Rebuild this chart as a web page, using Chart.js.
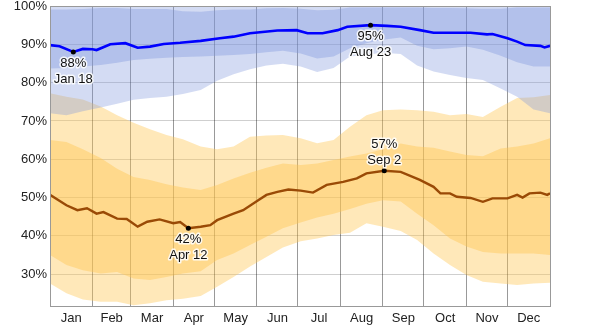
<!DOCTYPE html>
<html>
<head>
<meta charset="utf-8">
<title>Relative humidity</title>
<script src="https://cdn.jsdelivr.net/npm/chart.js@4.4.1/dist/chart.umd.min.js"></script>
<style>
  html, body { margin: 0; padding: 0; background: #fff; }
</style>
</head>
<body>
<canvas id="humidityChart" width="600" height="329"></canvas>
<script>
// Month axis (day of year, Jan 1 = 0)
const monthNames = ['Jan', 'Feb', 'Mar', 'Apr', 'May', 'Jun', 'Jul', 'Aug', 'Sep', 'Oct', 'Nov', 'Dec'];
const monthStarts = [0, 31, 59, 90, 120, 151, 181, 212, 243, 273, 304, 334, 365];
const yTicks = [30, 40, 50, 60, 70, 80, 90, 100];

// Percentile bands share one set of days
const bandDays = [0, 12, 24, 37, 49, 61, 73, 85, 97, 110, 122, 134, 146, 158, 170, 183, 195, 207, 219, 231, 243, 256, 268, 280, 292, 304, 316, 329, 341, 353, 365];

// daily high humidity: 10th / 25th / 75th / 90th percentile
const highP90 = [100, 100, 100, 100, 100, 100, 100, 100, 100, 100, 100, 100, 100, 100, 100, 100, 100, 100, 100, 100, 100, 100, 100, 100, 100, 100, 100, 100, 100, 100, 100];
const highP75 = [99.1, 99.1, 99.2, 99.5, 99.5, 99.2, 99.2, 99.2, 98.6, 98.5, 98.9, 99.1, 99.1, 99.4, 99.5, 99.3, 98.9, 99.0, 99.6, 99.6, 99.6, 99.6, 99.6, 99.5, 99.5, 99.4, 99.3, 99.3, 99.6, 99.6, 99.6];
const highP25 = [83.7, 83.8, 84.2, 84.6, 85.2, 85.9, 86.2, 86.5, 86.7, 86.8, 87.0, 87.2, 87.5, 87.9, 88.3, 87.6, 86.3, 86.8, 89.0, 90.3, 91.2, 91.8, 89.6, 88.7, 89.0, 89.4, 88.6, 87.0, 85.3, 84.2, 84.2];
const highP10 = [72.0, 71.5, 72.5, 73.5, 74.5, 75.5, 76.0, 76.3, 77.0, 78.1, 80.5, 82.2, 83.5, 84.5, 84.9, 84.2, 82.8, 83.8, 86.8, 87.3, 87.8, 87.5, 84.5, 82.9, 82.0, 81.2, 80.7, 78.5, 76.3, 73.0, 72.0];

// daily low humidity: 10th / 25th / 75th / 90th percentile
const lowP90 = [77.2, 76.3, 75.6, 73.8, 71.5, 69.5, 67.8, 66.3, 65.2, 63.3, 62.6, 63.3, 65.9, 66.2, 66.3, 65.5, 64.2, 65.0, 68.5, 71.5, 72.8, 73.0, 72.8, 72.4, 71.5, 71.8, 71.0, 73.7, 76.0, 76.2, 76.8];
const lowP75 = [65.0, 64.5, 62.6, 60.3, 57.5, 55.4, 54.6, 53.5, 52.6, 52.0, 53.3, 55.0, 56.5, 57.8, 58.9, 58.5, 58.9, 59.8, 60.7, 61.5, 62.6, 64.1, 63.3, 63.0, 62.0, 61.1, 60.8, 62.8, 63.3, 64.1, 65.5];
const lowP25 = [35.0, 32.4, 31.0, 30.2, 30.6, 28.9, 28.5, 29.3, 30.2, 30.8, 33.7, 35.4, 37.6, 39.8, 42.0, 43.5, 44.8, 45.8, 47.0, 48.4, 49.3, 49.0, 45.8, 42.8, 39.3, 37.2, 35.8, 35.4, 35.4, 35.4, 35.0];
const lowP10 = [27.6, 25.0, 23.4, 22.8, 22.8, 21.9, 22.4, 23.2, 23.6, 24.3, 26.7, 29.3, 32.0, 34.5, 37.0, 38.6, 39.3, 40.2, 40.8, 43.3, 42.4, 41.3, 38.9, 35.4, 32.4, 29.8, 28.0, 27.6, 27.2, 27.6, 27.8];

// median daily high humidity
const highDays = [0, 7, 17, 24, 31, 34, 44, 55, 64, 73, 83, 95, 110, 124, 134, 146, 166, 180, 188, 199, 210, 217, 234, 246, 256, 270, 280, 307, 319, 323, 334, 341, 347, 358, 361, 365];
const highMedian = [89.8, 89.5, 88, 88.8, 88.7, 88.5, 90.0, 90.3, 89.1, 89.4, 90.1, 90.4, 90.9, 91.6, 92.0, 92.9, 93.6, 93.7, 92.9, 92.9, 93.7, 94.6, 95, 94.8, 94.6, 93.7, 93.0, 93.0, 92.6, 92.7, 91.6, 90.7, 89.8, 89.6, 89.2, 89.6];

// median daily low humidity
const lowDays = [0, 12, 20, 27, 34, 39, 49, 56, 64, 71, 80, 90, 95, 101, 110, 117, 122, 134, 141, 152, 158, 166, 174, 183, 192, 202, 214, 224, 231, 244, 256, 270, 280, 285, 292, 297, 307, 316, 323, 334, 341, 345, 350, 358, 363, 365];
const lowMedian = [50.7, 48.0, 46.7, 47.2, 45.8, 46.2, 44.5, 44.4, 42.4, 43.7, 44.3, 43.3, 43.6, 42, 42.4, 42.8, 44.1, 45.8, 46.7, 49.3, 50.7, 51.5, 52.1, 51.8, 51.3, 53.3, 54.1, 55.0, 56.3, 57, 56.7, 54.6, 52.8, 51.1, 51.1, 50.2, 49.9, 48.9, 49.8, 49.8, 50.7, 50.0, 51.1, 51.3, 50.7, 51.1];

// extremes that get a dot and a label
const markDays = [17, 234, 101, 244];
const markSeries = ['high', 'high', 'low', 'low'];
const markDates = ['Jan 18', 'Aug 23', 'Apr 12', 'Sep 2'];
const markAbove = [false, false, false, true];

const FONT = '"Liberation Sans", Arial, sans-serif';
const monthMids = monthNames.map((m, i) => (monthStarts[i] + monthStarts[i + 1]) / 2);

function pts(days, values) {
  return days.map((d, i) => ({ x: d, y: values[i] }));
}

function bound(days, values) {
  return { data: pts(days, values), borderWidth: 0, pointRadius: 0, fill: false, order: 5 };
}

function band(days, values, color, order) {
  return { data: pts(days, values), borderWidth: 0, pointRadius: 0, fill: '-1', backgroundColor: color, order: order };
}

const datasets = [
  // 0..3 low humidity bands (drawn first)
  bound(bandDays, lowP10),
  band(bandDays, lowP90, 'rgba(255,197,80,0.4)', 4),
  bound(bandDays, lowP25),
  band(bandDays, lowP75, 'rgba(255,197,80,0.43)', 3),
  // 4..7 high humidity bands
  bound(bandDays, highP10),
  band(bandDays, highP90, 'rgba(129,152,221,0.35)', 2),
  bound(bandDays, highP25),
  band(bandDays, highP75, 'rgba(129,152,221,0.39)', 2),
  // 8..9 median lines
  { data: pts(highDays, highMedian), borderColor: '#0000ff', borderWidth: 2.6, pointRadius: 0, fill: false, tension: 0, order: 0 },
  { data: pts(lowDays, lowMedian), borderColor: '#9a4a06', borderWidth: 2.4, pointRadius: 0, fill: false, tension: 0, order: 0 }
];

// frame around the plot plus the labelled extremes
const framePlugin = {
  id: 'frameAndMarks',
  afterDraw(chart) {
    const ctx = chart.ctx;
    const area = chart.chartArea;
    const xs = chart.scales.x;
    const ys = chart.scales.y;

    ctx.save();
    ctx.strokeStyle = '#999';
    ctx.lineWidth = 1;
    ctx.strokeRect(Math.round(area.left) + 0.5, Math.round(area.top) + 0.5,
      Math.round(area.right - area.left), Math.round(area.bottom - area.top));

    ctx.font = '13px ' + FONT;
    ctx.textAlign = 'center';
    ctx.textBaseline = 'middle';
    ctx.lineJoin = 'round';

    markDays.forEach((day, i) => {
      const days = markSeries[i] === 'high' ? highDays : lowDays;
      const vals = markSeries[i] === 'high' ? highMedian : lowMedian;
      const value = vals[days.indexOf(day)];
      const px = xs.getPixelForValue(day);
      const py = ys.getPixelForValue(value);

      ctx.fillStyle = '#000';
      ctx.beginPath();
      ctx.arc(px, py, 2.5, 0, Math.PI * 2);
      ctx.fill();

      const lines = [Math.round(value) + '%', markDates[i]];
      const offsets = markAbove[i] ? [-26, -10] : [11, 27];
      lines.forEach((txt, j) => {
        ctx.strokeStyle = 'rgba(255,255,255,0.85)';
        ctx.lineWidth = 3;
        ctx.strokeText(txt, px, py + offsets[j]);
        ctx.fillStyle = '#111';
        ctx.fillText(txt, px, py + offsets[j]);
      });
    });
    ctx.restore();
  }
};

new Chart(document.getElementById('humidityChart'), {
  type: 'line',
  data: { datasets: datasets },
  options: {
    responsive: false,
    animation: false,
    devicePixelRatio: 1,
    layout: { padding: { top: 6, right: 50, left: 0, bottom: 0 } },
    plugins: {
      legend: { display: false },
      tooltip: { enabled: false }
    },
    scales: {
      x: {
        type: 'linear',
        min: 0,
        max: 365,
        z: 1,
        afterBuildTicks: axis => {
          axis.ticks = monthStarts.concat(monthMids).sort((a, b) => a - b).map(v => ({ value: v }));
        },
        afterFit: axis => {
          axis.height = 23;
          axis.paddingLeft = 0;
          axis.paddingRight = 0;
        },
        grid: {
          drawTicks: false,
          color: ctx => (ctx.tick && monthStarts.includes(ctx.tick.value)) ? '#999' : 'rgba(0,0,0,0)',
          lineWidth: 1
        },
        border: { display: false },
        ticks: {
          autoSkip: false,
          maxRotation: 0,
          padding: 5,
          color: '#222',
          font: { family: FONT, size: 13 },
          callback: value => {
            const i = monthMids.indexOf(value);
            return i >= 0 ? monthNames[i] : '';
          }
        }
      },
      y: {
        min: 21.7,
        max: 100,
        afterBuildTicks: axis => {
          axis.ticks = yTicks.map(v => ({ value: v }));
        },
        afterFit: axis => {
          axis.width = 50;
          axis.paddingTop = 0;
          axis.paddingBottom = 0;
        },
        grid: { drawTicks: false, color: 'rgba(0,0,0,0.19)', lineWidth: 1 },
        border: { display: false },
        ticks: {
          padding: 3,
          color: '#222',
          font: { family: FONT, size: 13 },
          callback: value => value + '%'
        }
      }
    }
  },
  plugins: [framePlugin]
});
</script>
</body>
</html>
